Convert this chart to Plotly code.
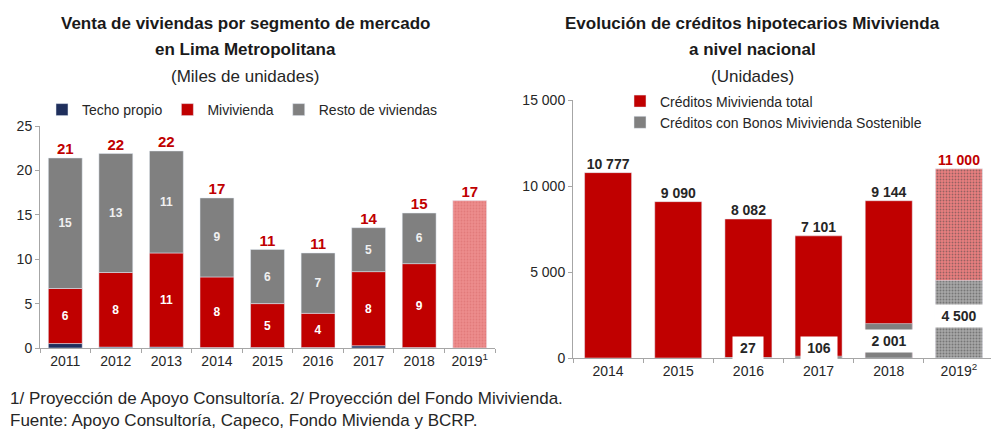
import plotly.graph_objects as go

# ---- left chart data (miles de unidades) ----
years_left = ["2011", "2012", "2013", "2014", "2015", "2016", "2017", "2018", "2019<sup>1</sup>"]
techo_propio = [0.5, 0.1, 0.1, 0.05, 0.05, 0.05, 0.25, 0.05, None]
mivivienda = [6.2, 8.4, 10.6, 7.95, 4.95, 3.85, 8.35, 9.45, None]
resto = [14.7, 13.4, 11.49, 8.9, 6.1, 6.8, 4.95, 5.7, None]
proyeccion_2019 = [None, None, None, None, None, None, None, None, 16.6]

# ---- right chart data (unidades) ----
years_right = ["2014", "2015", "2016", "2017", "2018", "2019<sup>2</sup>"]
creditos_total = [10777, 9090, 8082, 7101, 9144, 11000]
creditos_bonos = [None, None, 27, 106, 2001, 4500]
bonos_label_y = [None, None, 610, 610, 990, 2440]

RED = "#c00000"
GREY = "#808080"
NAVY = "#1f2f5c"
FONT = "Liberation Sans, Arial"
TXT = "#262626"
W, H = 999, 438
OFF = 8  # page body margin


def fx(px):
    return (px - OFF) / W


def fy(py):
    return 1 - (py - OFF) / H


totals_left = [
    (t or 0) + (m or 0) + (r or 0) + (p or 0)
    for t, m, r, p in zip(techo_propio, mivivienda, resto, proyeccion_2019)
]
base_mivi = [t if m is not None else None for t, m in zip(techo_propio, mivivienda)]
base_resto = [(t or 0) + (m or 0) if m is not None else None for t, m in zip(techo_propio, mivivienda)]

fig = go.Figure()

# left stacked bars (stacked through base so the right chart can overlay)
fig.add_trace(go.Bar(x=years_left, y=techo_propio, name="Techo propio", marker_color=NAVY,
                     xaxis="x", yaxis="y", legend="legend"))
fig.add_trace(go.Bar(x=years_left, y=mivivienda, base=base_mivi, name="Mivivienda", marker_color=RED,
                     texttemplate="%{y:.0f}", textposition="inside", insidetextanchor="middle",
                     textfont=dict(color="white", size=12, family=FONT, weight="bold"),
                     xaxis="x", yaxis="y", legend="legend"))
fig.add_trace(go.Bar(x=years_left, y=resto, base=base_resto, name="Resto de viviendas", marker_color=GREY,
                     texttemplate="%{y:.0f}", textposition="inside", insidetextanchor="middle",
                     textfont=dict(color="#f0f0f0", size=12, family=FONT, weight="bold"),
                     xaxis="x", yaxis="y", legend="legend"))
fig.add_trace(go.Bar(x=years_left, y=proyeccion_2019, showlegend=False,
                     marker=dict(color="#e97f7f",
                                 pattern=dict(shape=".", fgcolor="#d86a6a", bgcolor="#ec8c8c",
                                              size=3, solidity=0.3)),
                     xaxis="x", yaxis="y"))
fig.add_trace(go.Scatter(x=years_left, y=totals_left, mode="text", showlegend=False,
                         texttemplate="%{y:.0f}", textposition="top center",
                         textfont=dict(color=RED, size=15, family=FONT, weight="bold"),
                         xaxis="x", yaxis="y", cliponaxis=False))

# right overlaid bars
pat_shape = ["", "", "", "", "", "."]
fig.add_trace(go.Bar(x=years_right, y=creditos_total, name="Créditos Mivivienda total",
                     marker=dict(color=[RED] * 5 + ["#e97f7f"],
                                 pattern=dict(shape=pat_shape, fgcolor="#d86060", bgcolor="#ee8c8c",
                                              size=3, solidity=0.3)),
                     xaxis="x2", yaxis="y2", legend="legend2"))
fig.add_trace(go.Bar(x=years_right, y=creditos_bonos, name="Créditos con Bonos Mivivienda Sostenible",
                     marker=dict(color=[GREY] * 5 + ["#a8a8a8"],
                                 pattern=dict(shape=pat_shape, fgcolor="#808080", bgcolor="#b4b4b4",
                                              size=3, solidity=0.35)),
                     xaxis="x2", yaxis="y2", legend="legend2"))
fig.add_trace(go.Scatter(x=years_right, y=creditos_total, mode="text", showlegend=False,
                         texttemplate="%{y:,.0f}", textposition="top center",
                         textfont=dict(color=[TXT] * 5 + [RED], size=14, family=FONT, weight="bold"),
                         xaxis="x2", yaxis="y2", cliponaxis=False))

# white label boxes for the bonos values (x given as category index)
box_width = [None, None, 28, 34, 48, 46]
for i, (v, yl) in enumerate(zip(creditos_bonos, bonos_label_y)):
    if v is None:
        continue
    fig.add_annotation(x=i, y=yl, xref="x2", yref="y2", text=f"{v:,}".replace(",", " "),
                       showarrow=False, bgcolor="white", width=box_width[i], height=20,
                       font=dict(size=14, color=TXT, family=FONT, weight="bold"))

axis_common = dict(showline=True, linecolor="#a6a6a6", linewidth=1, showgrid=False, zeroline=False,
                   ticks="outside", tickcolor="#a6a6a6", ticklen=4,
                   tickfont=dict(size=14, color=TXT, family=FONT))

fig.update_layout(
    width=W, height=H,
    margin=dict(l=0, r=0, t=0, b=0, autoexpand=False),
    paper_bgcolor="white", plot_bgcolor="white",
    barmode="overlay",
    bargap=0.33,
    separators=". ",
    font=dict(family=FONT, color=TXT),
    xaxis=dict(domain=[fx(40), fx(495)], anchor="y", type="category", range=[-0.5, 8.5],
               tickson="boundaries", **axis_common),
    yaxis=dict(domain=[fy(348), fy(126)], anchor="x", range=[0, 25], dtick=5, **axis_common),
    xaxis2=dict(domain=[fx(573), fx(994)], anchor="y2", type="category", range=[-0.5, 5.5],
                tickson="boundaries", **axis_common),
    yaxis2=dict(domain=[fy(358), fy(100)], anchor="x2", range=[0, 15000], dtick=5000,
                tickformat=",d", **axis_common),
    legend=dict(orientation="h", x=fx(42), y=fy(110), xanchor="left", yanchor="middle",
                font=dict(size=14, color=TXT, family=FONT), bgcolor="rgba(0,0,0,0)",
                itemwidth=30, tracegroupgap=0),
    legend2=dict(orientation="v", x=fx(620), y=fy(112), xanchor="left", yanchor="middle",
                 font=dict(size=14, color=TXT, family=FONT), bgcolor="rgba(0,0,0,0)",
                 itemwidth=30, tracegroupgap=0),
)


# titles, one annotation per line
def title_line(xp, yp, text, size, bold):
    fig.add_annotation(x=fx(xp), y=fy(yp), xref="paper", yref="paper", showarrow=False,
                       xanchor="center", yanchor="middle",
                       text=f"<b>{text}</b>" if bold else text,
                       font=dict(size=size, color="#1a1a1a" if bold else TXT, family=FONT))


title_line(245, 23, "Venta de viviendas por segmento de mercado", 17, True)
title_line(245, 50, "en Lima Metropolitana", 17, True)
title_line(245, 76, "(Miles de unidades)", 17, False)
title_line(752, 23, "Evolución de créditos hipotecarios Mivivienda", 17, True)
title_line(752, 50, "a nivel nacional", 17, True)
title_line(752, 76, "(Unidades)", 17, False)

# footnotes
fig.add_annotation(x=0.0, y=fy(398), xref="paper", yref="paper", showarrow=False, xanchor="left",
                   text="1/ Proyección de Apoyo Consultoría. 2/ Proyección del Fondo Mivivienda.",
                   font=dict(size=17, color=TXT, family=FONT), yanchor="middle")
fig.add_annotation(x=0.0, y=fy(420), xref="paper", yref="paper", showarrow=False, xanchor="left",
                   text="Fuente: Apoyo Consultoría, Capeco, Fondo Mivienda y BCRP.",
                   font=dict(size=17, color=TXT, family=FONT), yanchor="middle")

fig.write_html("out.html")
